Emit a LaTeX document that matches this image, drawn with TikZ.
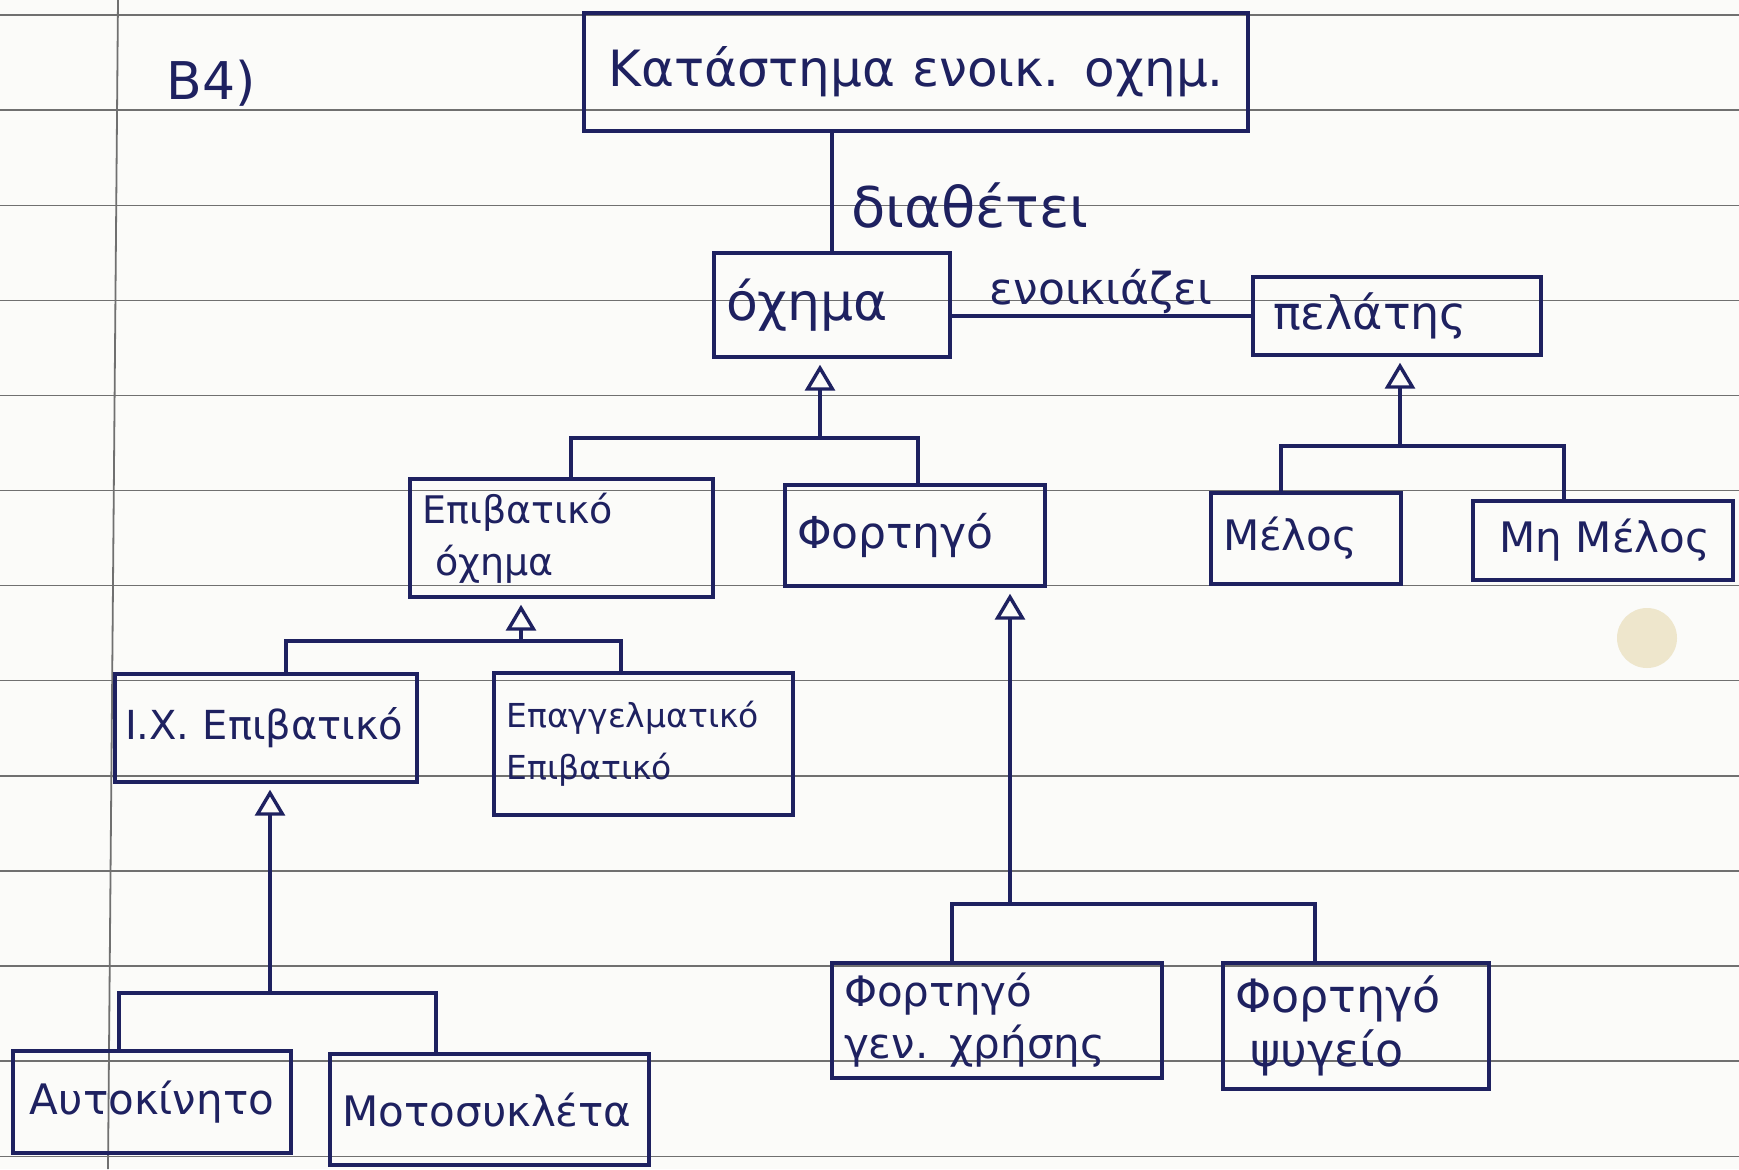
\documentclass[tikz,border=0pt]{standalone}
\usepackage{fontspec}
\setmainfont{DejaVu Sans}
\usetikzlibrary{arrows.meta}
\definecolor{ink}{HTML}{1E2160}
\definecolor{rulegrey}{HTML}{707070}
\definecolor{paper}{HTML}{FBFBF9}
\definecolor{hole}{HTML}{EEE6CC}
\begin{document}
\begin{tikzpicture}[x=0.5pt,y=-0.5pt,
  font=\fontsize{20}{26}\selectfont,
  bx/.style n args={3}{draw=ink,line width=1.7pt,text=ink,minimum width=#1,minimum height=#2,text width=#3,inner xsep=6pt,inner ysep=4pt,align=left},
  lbl/.style={text=ink,inner sep=1pt},
  conn/.style={draw=ink,line width=1.7pt},
  gen/.style={draw=ink,line width=1.7pt,-{Triangle[open,length=13pt,width=15pt]},shorten >=3pt},
  ruled/.style={draw=rulegrey,line width=0.7pt},
  margin/.style={draw=rulegrey,line width=0.9pt}]
% paper
\fill[paper] (0,0) rectangle (1739,1169);
\useasboundingbox (0,0) rectangle (1739,1169);
\foreach \k in {0,...,12} \draw[ruled] (0,15+95.1*\k) -- (1739,15+95.1*\k);
\draw[margin] (118,0) -- (108,1169);
\fill[hole] (1647,638) circle (15pt);

% title
\node[lbl,font=\fontsize{26}{30}\selectfont] (title) at (211,83) {B4)};

% boxes
\node[bx={332pt}{59pt}{326pt},inner xsep=2pt,align=center,font=\fontsize{25}{30}\selectfont] (store) at (916,72) {Κατάστημα ενοικ. οχημ.};
\node[bx={118pt}{52pt}{106pt},font=\fontsize{26}{30}\selectfont] (oxima) at (832,305) {όχημα};
\node[bx={144pt}{39pt}{132pt},font=\fontsize{23}{26}\selectfont] (pelatis) at (1397,316) {\hspace{4pt}πελάτης};
\node[bx={151.5pt}{59pt}{139pt},font=\fontsize{19}{26}\selectfont] (epiv) at (561.5,538) {Επιβατικό\\\ όχημα};
\node[bx={130pt}{50.5pt}{118pt},font=\fontsize{22}{26}\selectfont] (fort) at (915,535.5) {Φορτηγό};
\node[bx={95pt}{45.5pt}{83pt},font=\fontsize{21}{26}\selectfont] (melos) at (1306,538.5) {Μέλος};
\node[bx={130pt}{39.5pt}{118pt},font=\fontsize{21}{26}\selectfont] (mimelos) at (1603,540.5) {\ Μη Μέλος};
\node[bx={151pt}{54pt}{141pt},inner xsep=4pt,font=\fontsize{20}{26}\selectfont] (ix) at (266,728) {Ι.Χ. Επιβατικό};
\node[bx={149.5pt}{71pt}{137pt},font=\fontsize{16.5}{26}\selectfont] (epag) at (643.5,744) {Επαγγελματικό\\Επιβατικό};
\node[bx={139pt}{51pt}{127pt},align=center,font=\fontsize{21}{26}\selectfont] (auto) at (152,1102) {Αυτοκίνητο};
\node[bx={159.5pt}{55.5pt}{147pt},font=\fontsize{21}{26}\selectfont] (moto) at (489.5,1109.5) {Μοτοσυκλέτα};
\node[bx={165pt}{57.5pt}{153pt},font=\fontsize{21}{26}\selectfont] (fgen) at (997,1020.5) {Φορτηγό\\γεν. χρήσης};
\node[bx={133pt}{63pt}{121pt},font=\fontsize{23}{27}\selectfont] (fpsy) at (1356,1026) {Φορτηγό\\\ ψυγείο};

% associations
\draw[conn] (oxima.north) -- (oxima.north |- store.south);
\node[lbl,font=\fontsize{28}{32}\selectfont] (diathetei) at (970,205) {διαθέτει};
\draw[conn] (pelatis.west -| oxima.east) -- (pelatis.west);
\node[lbl,font=\fontsize{22}{26}\selectfont] (enoik) at (1101,292) {ενοικιάζει};

% generalization 1: oxima
\coordinate (b1l) at (571,438);
\coordinate (b1r) at (918,438);
\coordinate (b1m) at (820,438);
\draw[conn] (b1l |- epiv.north) -- (b1l) -- (b1r) -- (b1r |- fort.north);
\draw[gen] (b1m) -- (b1m |- oxima.south);

% generalization 2: pelatis
\coordinate (b2l) at (1281,446);
\coordinate (b2r) at (1564,446);
\coordinate (b2m) at (1400,446);
\draw[conn] (b2l |- melos.north) -- (b2l) -- (b2r) -- (b2r |- mimelos.north);
\draw[gen] (b2m) -- (b2m |- pelatis.south);

% generalization 3: epivatiko
\coordinate (b3l) at (286,641);
\coordinate (b3r) at (621,641);
\coordinate (b3m) at (521,641);
\draw[conn] (b3l |- ix.north) -- (b3l) -- (b3r) -- (b3r |- epag.north);
\draw[gen] (b3m) -- (b3m |- epiv.south);

% generalization 4: IX
\coordinate (b4l) at (119,993);
\coordinate (b4r) at (436,993);
\coordinate (b4m) at (270,993);
\draw[conn] (b4l |- auto.north) -- (b4l) -- (b4r) -- (b4r |- moto.north);
\draw[gen] (b4m) -- (b4m |- ix.south);

% generalization 5: fortigo
\coordinate (b5l) at (952,904);
\coordinate (b5r) at (1315,904);
\coordinate (b5m) at (1010,904);
\draw[conn] (b5l |- fgen.north) -- (b5l) -- (b5r) -- (b5r |- fpsy.north);
\draw[gen] (b5m) -- (b5m |- fort.south);
\end{tikzpicture}
\end{document}
